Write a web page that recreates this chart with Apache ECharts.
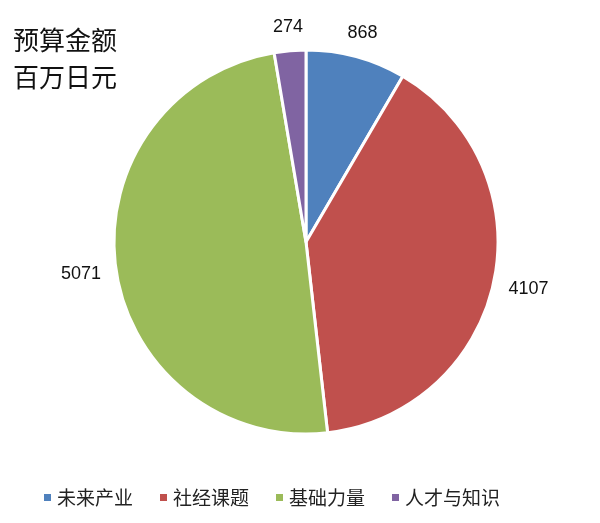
<!DOCTYPE html>
<html>
<head>
<meta charset="utf-8">
<script src="https://cdn.jsdelivr.net/npm/echarts@6/dist/echarts.min.js"></script>
<style>
  html, body { margin: 0; padding: 0; background: #fff; }
  #main { width: 600px; height: 523px; }
</style>
</head>
<body>
<div id="main"></div>
<script>
var names = ['未来产业', '社经课题', '基础力量', '人才与知识'];
var values = [868, 4107, 5071, 274];
var colors = ['#4f81bd', '#c0504d', '#9bbb59', '#8064a2'];

var CX = 306, CY = 242, R = 192;
var LABEL_DIST = 207; // distance from centre to the nearest edge of a value label

var data = [];
var labelData = [];
for (var i = 0; i < names.length; ++i) {
  data.push({ name: names[i], value: values[i], itemStyle: { color: colors[i] } });
  labelData.push({ name: names[i], value: values[i] });
}

// push each label out along its direction until its box sits LABEL_DIST from the centre
function placeLabel(params) {
  var r = params.labelRect;
  var mx = r.x + r.width / 2, my = r.y + r.height / 2;
  var dx = mx - CX, dy = my - CY;
  var len = Math.sqrt(dx * dx + dy * dy) || 1;
  var ux = dx / len, uy = dy / len;
  var t = Math.min(
    Math.abs(ux) > 1e-6 ? (r.width / 2) / Math.abs(ux) : Infinity,
    Math.abs(uy) > 1e-6 ? (r.height / 2) / Math.abs(uy) : Infinity
  );
  var d = LABEL_DIST + t;
  return { x: CX + ux * d, y: CY + uy * d, align: 'center', verticalAlign: 'middle' };
}

var chart = echarts.init(document.getElementById('main'));

var option = {
  backgroundColor: '#fff',
  title: {
    text: '预算金额\n百万日元',
    left: 8,
    top: 17,
    textStyle: {
      fontFamily: 'Noto Sans CJK SC',
      fontSize: 26,
      fontWeight: 'normal',
      color: '#111',
      lineHeight: 37
    }
  },
  legend: {
    bottom: 11,
    left: 37,
    icon: 'rect',
    itemWidth: 9,
    itemHeight: 9,
    itemGap: 25,
    textStyle: {
      fontFamily: 'Noto Sans CJK SC',
      fontSize: 19,
      color: '#222'
    },
    data: names
  },
  series: [{
    type: 'pie',
    center: [CX, CY],
    radius: R,
    startAngle: 90,
    clockwise: true,
    itemStyle: {
      borderColor: '#fff',
      borderWidth: 3
    },
    label: { show: false },
    labelLine: { show: false },
    data: data
  }, {
    // transparent ring, only carries the value labels
    type: 'pie',
    center: [CX, CY],
    radius: [205, 229],
    startAngle: 90,
    clockwise: true,
    silent: true,
    itemStyle: { color: 'rgba(0,0,0,0)' },
    label: {
      show: true,
      position: 'inside',
      formatter: '{c}',
      fontFamily: 'Liberation Sans',
      fontSize: 18,
      color: '#111'
    },
    labelLine: { show: false },
    labelLayout: placeLabel,
    data: labelData
  }]
};

chart.setOption(option);
</script>
</body>
</html>
